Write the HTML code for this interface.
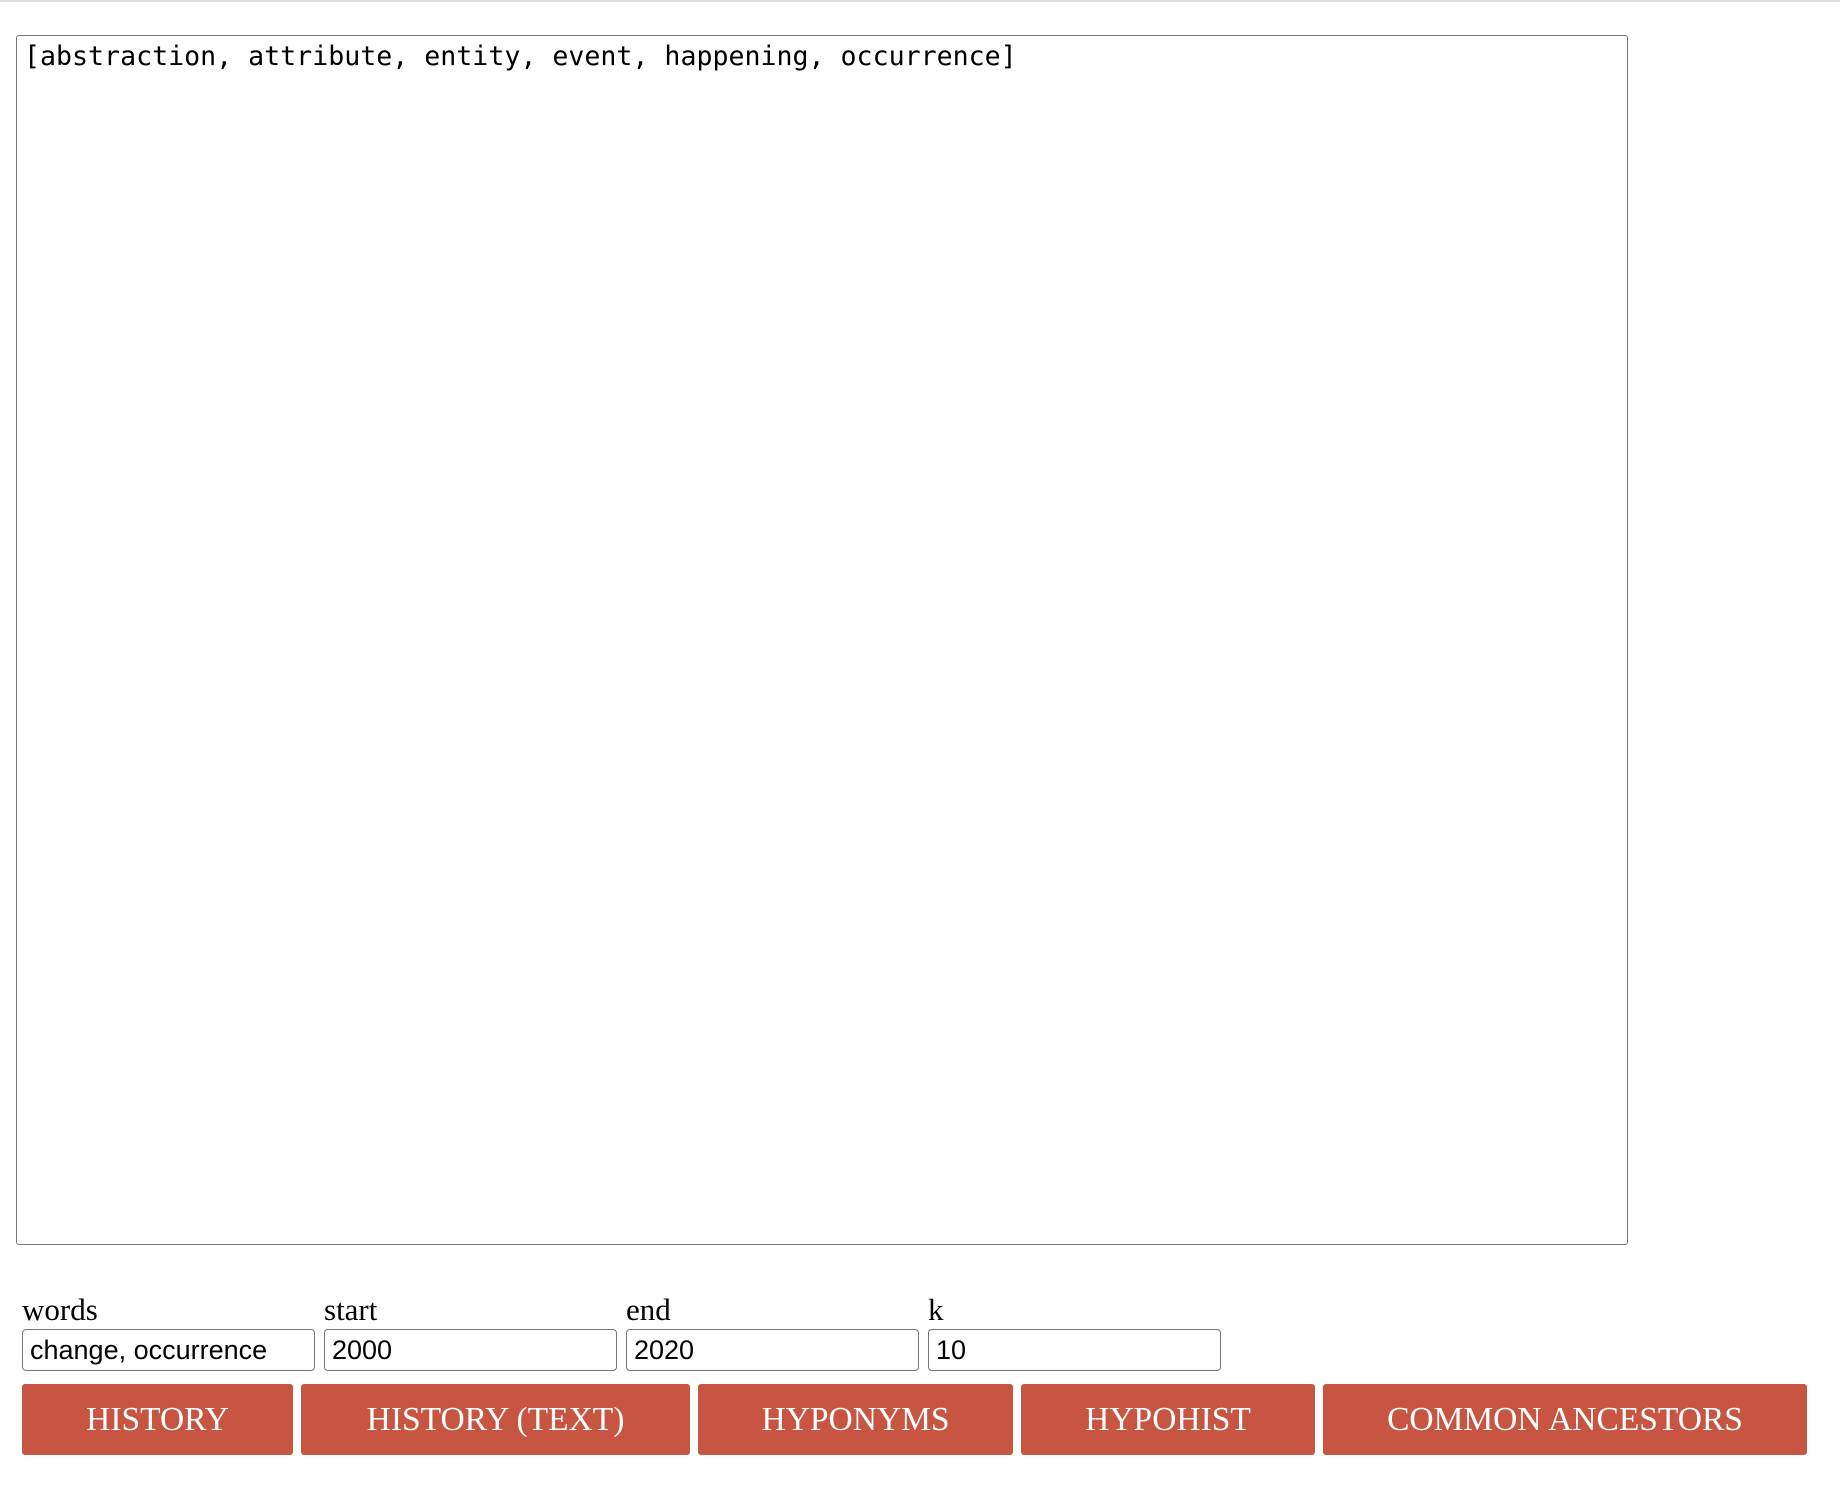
<!DOCTYPE html>
<html><head><meta charset="utf-8"><style>
html,body{margin:0;padding:0;background:#fff;width:1840px;height:1492px;overflow:hidden;position:relative}
.topline{position:absolute;left:0;top:0;width:1840px;height:2px;background:#ddd}
.ta{position:absolute;left:16px;top:35px;width:1612px;height:1210px;border:1.5px solid #767676;border-radius:3px;box-sizing:border-box;
font-family:"DejaVu Sans Mono","Liberation Mono",monospace;font-size:26.6px;padding:5px 0 0 7px;color:#000;white-space:pre}
.lbl{position:absolute;top:1292px;font-family:"Liberation Serif",serif;font-size:31px;color:#000}
.inp{position:absolute;top:1329px;width:293px;height:42px;border:1.5px solid #767676;border-radius:4px;box-sizing:border-box;
font-family:"Liberation Sans",sans-serif;font-size:27px;line-height:40px;padding-left:7px;color:#000}
.btn{position:absolute;top:1384px;height:71px;background:#c85442;border-radius:3px;color:#fff;
font-family:"Liberation Serif",serif;font-size:33.5px;line-height:71px;text-align:center}
</style></head><body>
<div class="topline"></div>
<div class="ta">[abstraction, attribute, entity, event, happening, occurrence]</div>
<div class="lbl" style="left:22px">words</div>
<div class="lbl" style="left:324px">start</div>
<div class="lbl" style="left:626px">end</div>
<div class="lbl" style="left:928px">k</div>
<div class="inp" style="left:22px">change, occurrence</div>
<div class="inp" style="left:324px">2000</div>
<div class="inp" style="left:626px">2020</div>
<div class="inp" style="left:928px">10</div>
<div class="btn" style="left:22px;width:271px">HISTORY</div>
<div class="btn" style="left:301px;width:389px">HISTORY (TEXT)</div>
<div class="btn" style="left:698px;width:315px">HYPONYMS</div>
<div class="btn" style="left:1021px;width:294px">HYPOHIST</div>
<div class="btn" style="left:1323px;width:484px">COMMON ANCESTORS</div>
</body></html>
